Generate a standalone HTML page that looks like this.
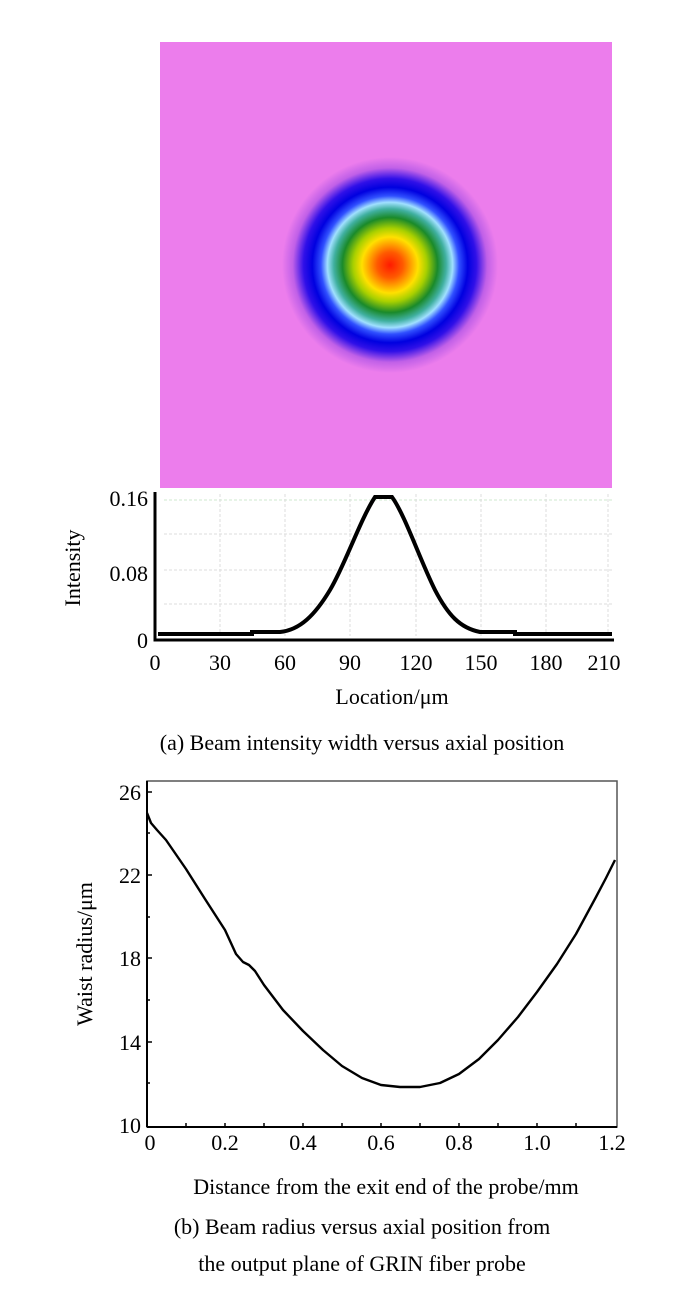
<!DOCTYPE html>
<html><head><meta charset="utf-8"><style>
body{margin:0;background:#fff;width:700px;height:1287px;overflow:hidden;font-family:"Liberation Serif",serif;}
</style></head><body>
<svg width="700" height="1287" viewBox="0 0 700 1287" xmlns="http://www.w3.org/2000/svg" font-family="Liberation Serif, serif">
<defs>
<radialGradient id="beam" cx="390" cy="265" r="108" gradientUnits="userSpaceOnUse">
<stop offset="0" stop-color="#ff1a00"/>
<stop offset="0.12" stop-color="#ff5a00"/>
<stop offset="0.26" stop-color="#ffe000"/>
<stop offset="0.34" stop-color="#a8d000"/>
<stop offset="0.44" stop-color="#1a8a2a"/>
<stop offset="0.52" stop-color="#40b0a0"/>
<stop offset="0.58" stop-color="#a0e0ff"/>
<stop offset="0.64" stop-color="#3050ff"/>
<stop offset="0.72" stop-color="#0000e0"/>
<stop offset="0.8" stop-color="#3010e8"/>
<stop offset="0.9" stop-color="#c060e8"/>
<stop offset="1" stop-color="#ec7dec"/>
</radialGradient>
</defs>
<rect x="160" y="42" width="452" height="446" fill="#ec7dec"/>
<circle cx="390" cy="265" r="108" fill="url(#beam)"/>
<g stroke="#ddd" stroke-width="1" stroke-dasharray="3,2">
<line x1="164" y1="500" x2="612" y2="500" stroke="#cfe8cf"/>
<line x1="164" y1="534" x2="612" y2="534"/>
<line x1="164" y1="570" x2="612" y2="570"/>
<line x1="164" y1="604" x2="612" y2="604"/>
<line x1="220" y1="494" x2="220" y2="636"/>
<line x1="285" y1="494" x2="285" y2="636"/>
<line x1="350" y1="494" x2="350" y2="636"/>
<line x1="416" y1="494" x2="416" y2="636"/>
<line x1="481" y1="494" x2="481" y2="636"/>
<line x1="546" y1="494" x2="546" y2="636"/>
<line x1="608" y1="494" x2="608" y2="636"/>
</g>
<path d="M155 492 V640 H614" fill="none" stroke="#000" stroke-width="3"/>
<path d="M158 634 L252 634 L252 632 L280 632 C300 630,315 615,330 590 C345 565,360 520,375 497 L392 497 C405 515,420 560,435 590 C448 615,460 628,480 632 L515 632 L515 634 L612 634" fill="none" stroke="#000" stroke-width="4"/>
<g font-size="22" fill="#000">
<text x="148" y="506" text-anchor="end">0.16</text>
<text x="148" y="581" text-anchor="end">0.08</text>
<text x="148" y="648" text-anchor="end">0</text>
<g text-anchor="middle">
<text x="155" y="670">0</text><text x="220" y="670">30</text><text x="285" y="670">60</text><text x="350" y="670">90</text><text x="416" y="670">120</text><text x="481" y="670">150</text><text x="546" y="670">180</text><text x="604" y="670">210</text>
</g>
<text x="392" y="704" text-anchor="middle">Location/μm</text>
<text transform="translate(80,568) rotate(-90)" text-anchor="middle">Intensity</text>
<text x="362" y="750" text-anchor="middle">(a) Beam intensity width versus axial position</text>
</g>
<rect x="147" y="781" width="470" height="346" fill="none" stroke="#555" stroke-width="1.5"/>
<g stroke="#000" stroke-width="2">
<line x1="147" y1="1127" x2="617" y2="1127"/>
<line x1="147" y1="781" x2="147" y2="1127"/>
</g>
<g stroke="#000" stroke-width="1.5">
<path d="M147 792h5M147 875h5M147 958h5M147 1042h5M147 833h3M147 917h3M147 1000h3M147 1083h3M186 1127v-4M225 1127v-4M264 1127v-4M303 1127v-4M342 1127v-4M381 1127v-4M420 1127v-4M459 1127v-4M498 1127v-4M537 1127v-4M576 1127v-4"/>
</g>
<polyline fill="none" stroke="#000" stroke-width="2.4" stroke-linejoin="round" points="147,813 151,823 157,830 166,840 186,869 205,899 225,930 236,954 243,962 249,965 255,971 264,985 283,1010 303,1031 323,1050 342,1066 362,1078 381,1085 400,1087 420,1087 440,1083 459,1074 479,1059 498,1040 518,1017 537,992 557,964 576,934 596,897 606,878 615,860"/>
<g font-size="22" fill="#000">
<text x="141" y="800" text-anchor="end">26</text>
<text x="141" y="883" text-anchor="end">22</text>
<text x="141" y="966" text-anchor="end">18</text>
<text x="141" y="1050" text-anchor="end">14</text>
<text x="141" y="1133" text-anchor="end">10</text>
<g text-anchor="middle">
<text x="150" y="1150">0</text><text x="225" y="1150">0.2</text><text x="303" y="1150">0.4</text><text x="381" y="1150">0.6</text><text x="459" y="1150">0.8</text><text x="537" y="1150">1.0</text><text x="612" y="1150">1.2</text>
</g>
<text transform="translate(92,954) rotate(-90)" text-anchor="middle">Waist radius/μm</text>
<text x="386" y="1194" text-anchor="middle">Distance from the exit end of the probe/mm</text>
<text x="362" y="1234" text-anchor="middle">(b) Beam radius versus axial position from</text>
<text x="362" y="1271" text-anchor="middle">the output plane of GRIN fiber probe</text>
</g>
</svg>
</body></html>
